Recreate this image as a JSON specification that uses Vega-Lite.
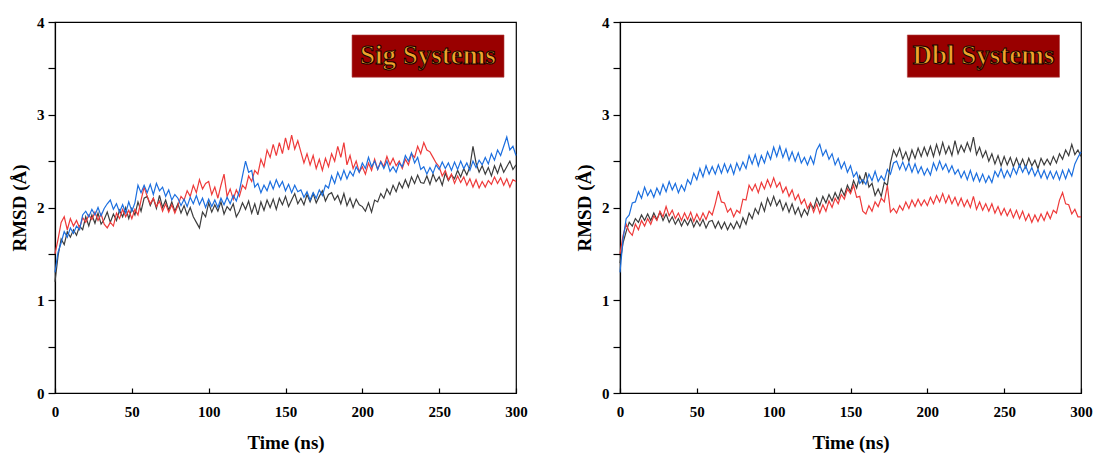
{
"$schema":"https://vega.github.io/schema/vega-lite/v6.json",
"background":"white",
"padding":{"left":9,"top":14,"right":2,"bottom":5},
"spacing":46,
"config":{"view":{"stroke":"#000","strokeWidth":1.2},"font":"Liberation Serif",
"axis":{"grid":false,"domainColor":"#000","domainWidth":1.2,"tickColor":"#000","tickWidth":1.2,"labelFont":"Liberation Serif","labelFontSize":15,"labelFontWeight":"bold","labelColor":"#000","titleFont":"Liberation Serif","titleFontSize":19,"titleFontWeight":"bold","titleColor":"#000","format":"d"}},
"datasets":{
"sig":[
{"t":0,"a":1.20,"b":1.50,"c":1.30},{"t":2,"a":1.48,"b":1.66,"c":1.52},{"t":4,"a":1.66,"b":1.84,"c":1.62},{"t":6,"a":1.60,"b":1.90,"c":1.74},{"t":8,"a":1.74,"b":1.76,"c":1.68},{"t":10,"a":1.68,"b":1.88,"c":1.78},{"t":12,"a":1.76,"b":1.80,"c":1.72},{"t":14,"a":1.70,"b":1.86,"c":1.80},{"t":16,"a":1.80,"b":1.78,"c":1.76},{"t":18,"a":1.76,"b":1.89,"c":1.92},
{"t":20,"a":1.90,"b":1.84,"c":1.96},{"t":22,"a":1.80,"b":1.92,"c":1.90},{"t":24,"a":1.92,"b":1.87,"c":1.98},{"t":26,"a":1.83,"b":1.95,"c":1.92},{"t":28,"a":1.94,"b":1.86,"c":2.00},{"t":30,"a":1.82,"b":1.93,"c":1.91},{"t":32,"a":1.87,"b":1.82,"c":1.99},{"t":34,"a":1.95,"b":1.78,"c":2.04},{"t":36,"a":1.84,"b":1.84,"c":2.08},{"t":38,"a":1.93,"b":1.80,"c":1.98},
{"t":40,"a":1.86,"b":1.94,"c":2.04},{"t":42,"a":1.97,"b":1.88,"c":1.95},{"t":44,"a":1.90,"b":1.98,"c":2.03},{"t":46,"a":2.00,"b":1.90,"c":1.94},{"t":48,"a":1.88,"b":1.97,"c":2.06},{"t":50,"a":1.99,"b":1.88,"c":1.96},{"t":52,"a":1.92,"b":1.98,"c":2.05},{"t":54,"a":2.06,"b":1.92,"c":2.24},{"t":56,"a":1.96,"b":2.08,"c":2.16},{"t":58,"a":2.10,"b":2.22,"c":2.24},
{"t":60,"a":2.12,"b":2.12,"c":2.16},{"t":62,"a":2.02,"b":2.04,"c":2.25},{"t":64,"a":2.10,"b":2.10,"c":2.14},{"t":66,"a":1.99,"b":2.01,"c":2.26},{"t":68,"a":2.13,"b":2.07,"c":2.18},{"t":70,"a":2.00,"b":1.96,"c":2.22},{"t":72,"a":2.08,"b":2.04,"c":2.12},{"t":74,"a":1.97,"b":1.95,"c":2.19},{"t":76,"a":2.06,"b":2.03,"c":2.08},{"t":78,"a":1.96,"b":1.94,"c":2.14},
{"t":80,"a":2.04,"b":2.02,"c":2.10},{"t":82,"a":1.94,"b":2.12,"c":2.02},{"t":84,"a":2.02,"b":2.08,"c":2.09},{"t":86,"a":1.92,"b":2.18,"c":2.01},{"t":88,"a":2.00,"b":2.12,"c":2.11},{"t":90,"a":1.90,"b":2.24,"c":2.04},{"t":92,"a":1.84,"b":2.16,"c":2.13},{"t":94,"a":1.78,"b":2.30,"c":2.03},{"t":96,"a":1.95,"b":2.20,"c":2.10},{"t":98,"a":1.90,"b":2.26,"c":2.00},
{"t":100,"a":2.05,"b":2.28,"c":2.09},{"t":102,"a":1.95,"b":2.14,"c":2.01},{"t":104,"a":2.03,"b":2.22,"c":2.08},{"t":106,"a":1.96,"b":2.10,"c":2.00},{"t":108,"a":2.06,"b":2.24,"c":2.10},{"t":110,"a":1.93,"b":2.36,"c":2.03},{"t":112,"a":2.01,"b":2.12,"c":2.11},{"t":114,"a":1.97,"b":2.20,"c":2.04},{"t":116,"a":2.04,"b":2.09,"c":2.13},{"t":118,"a":1.90,"b":2.19,"c":2.07},
{"t":120,"a":1.96,"b":2.12,"c":2.18},{"t":122,"a":2.05,"b":2.24,"c":2.34},{"t":124,"a":1.98,"b":2.20,"c":2.50},{"t":126,"a":2.07,"b":2.34,"c":2.38},{"t":128,"a":1.94,"b":2.28,"c":2.40},{"t":130,"a":2.04,"b":2.40,"c":2.22},{"t":132,"a":1.92,"b":2.36,"c":2.26},{"t":134,"a":2.06,"b":2.52,"c":2.16},{"t":136,"a":1.97,"b":2.44,"c":2.24},{"t":138,"a":2.08,"b":2.62,"c":2.18},
{"t":140,"a":2.00,"b":2.54,"c":2.28},{"t":142,"a":2.09,"b":2.68,"c":2.20},{"t":144,"a":1.98,"b":2.56,"c":2.30},{"t":146,"a":2.10,"b":2.70,"c":2.22},{"t":148,"a":2.03,"b":2.58,"c":2.28},{"t":150,"a":2.12,"b":2.75,"c":2.18},{"t":152,"a":2.01,"b":2.62,"c":2.25},{"t":154,"a":2.08,"b":2.78,"c":2.16},{"t":156,"a":2.15,"b":2.63,"c":2.24},{"t":158,"a":2.04,"b":2.72,"c":2.17},
{"t":160,"a":2.10,"b":2.60,"c":2.19},{"t":162,"a":2.03,"b":2.48,"c":2.11},{"t":164,"a":2.14,"b":2.58,"c":2.17},{"t":166,"a":2.06,"b":2.46,"c":2.08},{"t":168,"a":2.15,"b":2.56,"c":2.16},{"t":170,"a":2.05,"b":2.42,"c":2.10},{"t":172,"a":2.12,"b":2.52,"c":2.19},{"t":174,"a":2.18,"b":2.40,"c":2.13},{"t":176,"a":2.07,"b":2.53,"c":2.24},{"t":178,"a":2.14,"b":2.44,"c":2.21},
{"t":180,"a":2.16,"b":2.58,"c":2.34},{"t":182,"a":2.08,"b":2.50,"c":2.26},{"t":184,"a":2.13,"b":2.66,"c":2.38},{"t":186,"a":2.04,"b":2.54,"c":2.30},{"t":188,"a":2.15,"b":2.70,"c":2.40},{"t":190,"a":2.02,"b":2.46,"c":2.31},{"t":192,"a":2.10,"b":2.56,"c":2.39},{"t":194,"a":2.00,"b":2.42,"c":2.34},{"t":196,"a":2.09,"b":2.50,"c":2.44},{"t":198,"a":2.03,"b":2.38,"c":2.38},
{"t":200,"a":2.01,"b":2.44,"c":2.48},{"t":202,"a":1.96,"b":2.36,"c":2.42},{"t":204,"a":2.05,"b":2.48,"c":2.54},{"t":206,"a":1.95,"b":2.40,"c":2.44},{"t":208,"a":2.08,"b":2.52,"c":2.50},{"t":210,"a":2.06,"b":2.41,"c":2.41},{"t":212,"a":2.15,"b":2.50,"c":2.49},{"t":214,"a":2.10,"b":2.44,"c":2.42},{"t":216,"a":2.20,"b":2.55,"c":2.50},{"t":218,"a":2.14,"b":2.46,"c":2.39},
{"t":220,"a":2.24,"b":2.53,"c":2.44},{"t":222,"a":2.17,"b":2.45,"c":2.38},{"t":224,"a":2.27,"b":2.50,"c":2.48},{"t":226,"a":2.21,"b":2.42,"c":2.44},{"t":228,"a":2.30,"b":2.52,"c":2.56},{"t":230,"a":2.22,"b":2.46,"c":2.50},{"t":232,"a":2.33,"b":2.58,"c":2.59},{"t":234,"a":2.26,"b":2.54,"c":2.48},{"t":236,"a":2.35,"b":2.66,"c":2.54},{"t":238,"a":2.27,"b":2.58,"c":2.41},
{"t":240,"a":2.26,"b":2.70,"c":2.44},{"t":242,"a":2.34,"b":2.62,"c":2.36},{"t":244,"a":2.25,"b":2.60,"c":2.43},{"t":246,"a":2.36,"b":2.54,"c":2.37},{"t":248,"a":2.28,"b":2.48,"c":2.46},{"t":250,"a":2.33,"b":2.44,"c":2.41},{"t":252,"a":2.24,"b":2.34,"c":2.49},{"t":254,"a":2.37,"b":2.40,"c":2.42},{"t":256,"a":2.29,"b":2.30,"c":2.48},{"t":258,"a":2.35,"b":2.36,"c":2.40},
{"t":260,"a":2.31,"b":2.26,"c":2.49},{"t":262,"a":2.40,"b":2.34,"c":2.41},{"t":264,"a":2.33,"b":2.27,"c":2.50},{"t":266,"a":2.42,"b":2.33,"c":2.42},{"t":268,"a":2.35,"b":2.24,"c":2.48},{"t":270,"a":2.44,"b":2.31,"c":2.40},{"t":272,"a":2.66,"b":2.22,"c":2.50},{"t":274,"a":2.48,"b":2.30,"c":2.43},{"t":276,"a":2.38,"b":2.21,"c":2.51},{"t":278,"a":2.45,"b":2.28,"c":2.46},
{"t":280,"a":2.36,"b":2.22,"c":2.54},{"t":282,"a":2.43,"b":2.29,"c":2.47},{"t":284,"a":2.34,"b":2.25,"c":2.58},{"t":286,"a":2.45,"b":2.33,"c":2.51},{"t":288,"a":2.37,"b":2.26,"c":2.62},{"t":290,"a":2.47,"b":2.32,"c":2.56},{"t":292,"a":2.38,"b":2.24,"c":2.66},{"t":294,"a":2.44,"b":2.31,"c":2.76},{"t":296,"a":2.50,"b":2.22,"c":2.62},{"t":298,"a":2.41,"b":2.30,"c":2.66},
{"t":300,"a":2.46,"b":2.28,"c":2.56}],
"dbl":[
{"t":0,"a":1.40,"b":1.50,"c":1.30},{"t":2,"a":1.62,"b":1.70,"c":1.66},{"t":4,"a":1.74,"b":1.82,"c":1.88},{"t":6,"a":1.84,"b":1.74,"c":1.92},{"t":8,"a":1.80,"b":1.70,"c":2.05},{"t":10,"a":1.88,"b":1.82,"c":2.06},{"t":12,"a":1.84,"b":1.76,"c":2.17},{"t":14,"a":1.92,"b":1.86,"c":2.10},{"t":16,"a":1.86,"b":1.80,"c":2.22},{"t":18,"a":1.93,"b":1.88,"c":2.13},
{"t":20,"a":1.86,"b":1.82,"c":2.19},{"t":22,"a":1.94,"b":1.91,"c":2.11},{"t":24,"a":1.87,"b":1.86,"c":2.21},{"t":26,"a":1.95,"b":1.96,"c":2.14},{"t":28,"a":1.86,"b":1.90,"c":2.25},{"t":30,"a":1.93,"b":2.01,"c":2.17},{"t":32,"a":1.84,"b":1.91,"c":2.28},{"t":34,"a":1.90,"b":1.97,"c":2.19},{"t":36,"a":1.82,"b":1.88,"c":2.26},{"t":38,"a":1.88,"b":1.94,"c":2.16},
{"t":40,"a":1.80,"b":1.86,"c":2.24},{"t":42,"a":1.87,"b":1.94,"c":2.18},{"t":44,"a":1.81,"b":1.87,"c":2.30},{"t":46,"a":1.88,"b":1.95,"c":2.25},{"t":48,"a":1.79,"b":1.85,"c":2.37},{"t":50,"a":1.86,"b":1.93,"c":2.30},{"t":52,"a":1.80,"b":1.86,"c":2.42},{"t":54,"a":1.87,"b":1.94,"c":2.33},{"t":56,"a":1.78,"b":1.87,"c":2.45},{"t":58,"a":1.85,"b":1.96,"c":2.36},
{"t":60,"a":1.86,"b":1.92,"c":2.44},{"t":62,"a":1.78,"b":2.04,"c":2.36},{"t":64,"a":1.85,"b":2.18,"c":2.46},{"t":66,"a":1.77,"b":2.06,"c":2.37},{"t":68,"a":1.84,"b":2.05,"c":2.47},{"t":70,"a":1.76,"b":1.95,"c":2.38},{"t":72,"a":1.83,"b":1.99,"c":2.46},{"t":74,"a":1.77,"b":1.90,"c":2.36},{"t":76,"a":1.85,"b":1.97,"c":2.48},{"t":78,"a":1.78,"b":1.94,"c":2.40},
{"t":80,"a":1.89,"b":2.09,"c":2.49},{"t":82,"a":1.82,"b":2.08,"c":2.42},{"t":84,"a":1.94,"b":2.24,"c":2.56},{"t":86,"a":1.88,"b":2.18,"c":2.47},{"t":88,"a":1.99,"b":2.25,"c":2.57},{"t":90,"a":1.93,"b":2.16,"c":2.45},{"t":92,"a":2.05,"b":2.27,"c":2.56},{"t":94,"a":1.96,"b":2.20,"c":2.48},{"t":96,"a":2.10,"b":2.30,"c":2.60},{"t":98,"a":2.02,"b":2.22,"c":2.52},
{"t":100,"a":2.12,"b":2.32,"c":2.65},{"t":102,"a":2.02,"b":2.22,"c":2.55},{"t":104,"a":2.08,"b":2.27,"c":2.66},{"t":106,"a":1.97,"b":2.16,"c":2.54},{"t":108,"a":2.05,"b":2.22,"c":2.63},{"t":110,"a":1.95,"b":2.12,"c":2.51},{"t":112,"a":2.04,"b":2.19,"c":2.60},{"t":114,"a":1.93,"b":2.08,"c":2.50},{"t":116,"a":2.00,"b":2.14,"c":2.59},{"t":118,"a":1.90,"b":2.04,"c":2.48},
{"t":120,"a":1.98,"b":2.09,"c":2.54},{"t":122,"a":1.92,"b":1.99,"c":2.46},{"t":124,"a":2.04,"b":2.05,"c":2.55},{"t":126,"a":1.99,"b":1.95,"c":2.47},{"t":128,"a":2.10,"b":2.04,"c":2.62},{"t":130,"a":2.02,"b":1.94,"c":2.68},{"t":132,"a":2.12,"b":2.03,"c":2.56},{"t":134,"a":2.05,"b":1.96,"c":2.62},{"t":136,"a":2.14,"b":2.07,"c":2.52},{"t":138,"a":2.07,"b":2.00,"c":2.58},
{"t":140,"a":2.16,"b":2.10,"c":2.46},{"t":142,"a":2.09,"b":2.04,"c":2.53},{"t":144,"a":2.20,"b":2.14,"c":2.42},{"t":146,"a":2.13,"b":2.09,"c":2.49},{"t":148,"a":2.24,"b":2.20,"c":2.38},{"t":150,"a":2.17,"b":2.15,"c":2.45},{"t":152,"a":2.29,"b":2.24,"c":2.33},{"t":154,"a":2.21,"b":2.11,"c":2.38},{"t":156,"a":2.34,"b":2.12,"c":2.26},{"t":158,"a":2.26,"b":1.96,"c":2.30},
{"t":160,"a":2.38,"b":1.93,"c":2.25},{"t":162,"a":2.22,"b":2.02,"c":2.36},{"t":164,"a":2.26,"b":1.96,"c":2.29},{"t":166,"a":2.13,"b":2.06,"c":2.39},{"t":168,"a":2.20,"b":2.01,"c":2.28},{"t":170,"a":2.12,"b":2.10,"c":2.34},{"t":172,"a":2.27,"b":2.06,"c":2.29},{"t":174,"a":2.24,"b":2.24,"c":2.41},{"t":176,"a":2.48,"b":1.95,"c":2.36},{"t":178,"a":2.62,"b":1.99,"c":2.48},
{"t":180,"a":2.55,"b":1.94,"c":2.50},{"t":182,"a":2.64,"b":2.02,"c":2.41},{"t":184,"a":2.52,"b":1.97,"c":2.49},{"t":186,"a":2.60,"b":2.06,"c":2.40},{"t":188,"a":2.50,"b":1.99,"c":2.48},{"t":190,"a":2.62,"b":2.08,"c":2.38},{"t":192,"a":2.53,"b":2.01,"c":2.47},{"t":194,"a":2.64,"b":2.09,"c":2.37},{"t":196,"a":2.55,"b":2.02,"c":2.44},{"t":198,"a":2.65,"b":2.08,"c":2.35},
{"t":200,"a":2.56,"b":2.02,"c":2.42},{"t":202,"a":2.66,"b":2.11,"c":2.35},{"t":204,"a":2.55,"b":2.04,"c":2.48},{"t":206,"a":2.68,"b":2.13,"c":2.40},{"t":208,"a":2.57,"b":2.06,"c":2.50},{"t":210,"a":2.70,"b":2.15,"c":2.41},{"t":212,"a":2.58,"b":2.05,"c":2.47},{"t":214,"a":2.66,"b":2.13,"c":2.38},{"t":216,"a":2.56,"b":2.04,"c":2.45},{"t":218,"a":2.72,"b":2.11,"c":2.36},
{"t":220,"a":2.58,"b":2.02,"c":2.41},{"t":222,"a":2.67,"b":2.10,"c":2.32},{"t":224,"a":2.60,"b":2.01,"c":2.39},{"t":226,"a":2.70,"b":2.08,"c":2.30},{"t":228,"a":2.61,"b":2.00,"c":2.40},{"t":230,"a":2.76,"b":2.12,"c":2.29},{"t":232,"a":2.57,"b":1.98,"c":2.37},{"t":234,"a":2.65,"b":2.06,"c":2.28},{"t":236,"a":2.54,"b":1.97,"c":2.36},{"t":238,"a":2.61,"b":2.04,"c":2.27},
{"t":240,"a":2.50,"b":1.96,"c":2.34},{"t":242,"a":2.58,"b":2.04,"c":2.27},{"t":244,"a":2.47,"b":1.94,"c":2.39},{"t":246,"a":2.56,"b":2.01,"c":2.33},{"t":248,"a":2.45,"b":1.92,"c":2.42},{"t":250,"a":2.55,"b":1.99,"c":2.32},{"t":252,"a":2.46,"b":1.91,"c":2.40},{"t":254,"a":2.54,"b":1.98,"c":2.33},{"t":256,"a":2.44,"b":1.89,"c":2.43},{"t":258,"a":2.53,"b":1.97,"c":2.36},
{"t":260,"a":2.44,"b":1.88,"c":2.46},{"t":262,"a":2.52,"b":1.96,"c":2.38},{"t":264,"a":2.43,"b":1.86,"c":2.45},{"t":266,"a":2.53,"b":1.93,"c":2.36},{"t":268,"a":2.45,"b":1.84,"c":2.43},{"t":270,"a":2.51,"b":1.92,"c":2.34},{"t":272,"a":2.42,"b":1.85,"c":2.41},{"t":274,"a":2.53,"b":1.93,"c":2.32},{"t":276,"a":2.46,"b":1.86,"c":2.40},{"t":278,"a":2.52,"b":1.95,"c":2.31},
{"t":280,"a":2.46,"b":1.88,"c":2.39},{"t":282,"a":2.55,"b":1.97,"c":2.31},{"t":284,"a":2.48,"b":1.94,"c":2.39},{"t":286,"a":2.58,"b":2.08,"c":2.30},{"t":288,"a":2.52,"b":2.16,"c":2.40},{"t":290,"a":2.62,"b":2.04,"c":2.31},{"t":292,"a":2.56,"b":2.03,"c":2.41},{"t":294,"a":2.68,"b":1.93,"c":2.34},{"t":296,"a":2.57,"b":1.98,"c":2.47},{"t":298,"a":2.62,"b":1.90,"c":2.54},
{"t":300,"a":2.55,"b":1.90,"c":2.60}]
},
"hconcat":[
{"width":461,"height":371,
"layer":[
{"data":{"name":"sig"},"transform":[{"fold":["a","b","c"],"as":["s","v"]}],
"mark":{"type":"line","strokeWidth":1.2},
"encoding":{
"x":{"field":"t","type":"quantitative","scale":{"domain":[0,300],"nice":false},"axis":{"title":"Time (ns)","values":[0,25,50,75,100,125,150,175,200,225,250,275,300],"labelExpr":"datum.value % 50 == 0 ? datum.label : ''","tickSize":-5,"labelPadding":16,"titlePadding":14,"labelFlush":false}},
"y":{"field":"v","type":"quantitative","scale":{"domain":[0,4],"nice":false},"axis":{"title":"RMSD (Å)","values":[0,0.5,1,1.5,2,2.5,3,3.5,4],"labelExpr":"datum.value % 1 == 0 ? datum.label : ''","tickSize":7,"labelPadding":4,"titlePadding":7,"labelFlush":false}},
"color":{"field":"s","type":"nominal","scale":{"domain":["a","b","c"],"range":["#3d3d3d","#ee3a3a","#1c6fdf"]},"legend":null}}},
{"data":{"values":[{"label":"Sig Systems"}]},
"mark":{"type":"rect","fill":"#990000","stroke":"#b04040","strokeWidth":0.6},
"encoding":{"x":{"datum":193.3,"type":"quantitative"},"x2":{"datum":292.2},"y":{"datum":3.86,"type":"quantitative"},"y2":{"datum":3.405}}},
{"data":{"values":[{"label":"Sig Systems"}]},
"mark":{"type":"text","font":"Liberation Serif","fontWeight":"bold","fontSize":27,"fill":"#f0a32a","stroke":"#140300","strokeWidth":1,"align":"center","baseline":"middle"},
"encoding":{"x":{"datum":242.7,"type":"quantitative"},"y":{"datum":3.63,"type":"quantitative"},"text":{"field":"label"}}}
]},
{"width":461,"height":371,
"layer":[
{"data":{"name":"dbl"},"transform":[{"fold":["a","b","c"],"as":["s","v"]}],
"mark":{"type":"line","strokeWidth":1.2},
"encoding":{
"x":{"field":"t","type":"quantitative","scale":{"domain":[0,300],"nice":false},"axis":{"title":"Time (ns)","values":[0,25,50,75,100,125,150,175,200,225,250,275,300],"labelExpr":"datum.value % 50 == 0 ? datum.label : ''","tickSize":-5,"labelPadding":16,"titlePadding":14,"labelFlush":false}},
"y":{"field":"v","type":"quantitative","scale":{"domain":[0,4],"nice":false},"axis":{"title":"RMSD (Å)","values":[0,0.5,1,1.5,2,2.5,3,3.5,4],"labelExpr":"datum.value % 1 == 0 ? datum.label : ''","tickSize":7,"labelPadding":4,"titlePadding":7,"labelFlush":false}},
"color":{"field":"s","type":"nominal","scale":{"domain":["a","b","c"],"range":["#3d3d3d","#ee3a3a","#1c6fdf"]},"legend":null}}},
{"data":{"values":[{"label":"Dbl Systems"}]},
"mark":{"type":"rect","fill":"#990000","stroke":"#b04040","strokeWidth":0.6},
"encoding":{"x":{"datum":187,"type":"quantitative"},"x2":{"datum":286},"y":{"datum":3.86,"type":"quantitative"},"y2":{"datum":3.405}}},
{"data":{"values":[{"label":"Dbl Systems"}]},
"mark":{"type":"text","font":"Liberation Serif","fontWeight":"bold","fontSize":27,"fill":"#f0a32a","stroke":"#140300","strokeWidth":1,"align":"center","baseline":"middle"},
"encoding":{"x":{"datum":236.5,"type":"quantitative"},"y":{"datum":3.63,"type":"quantitative"},"text":{"field":"label"}}}
]}
]
}
